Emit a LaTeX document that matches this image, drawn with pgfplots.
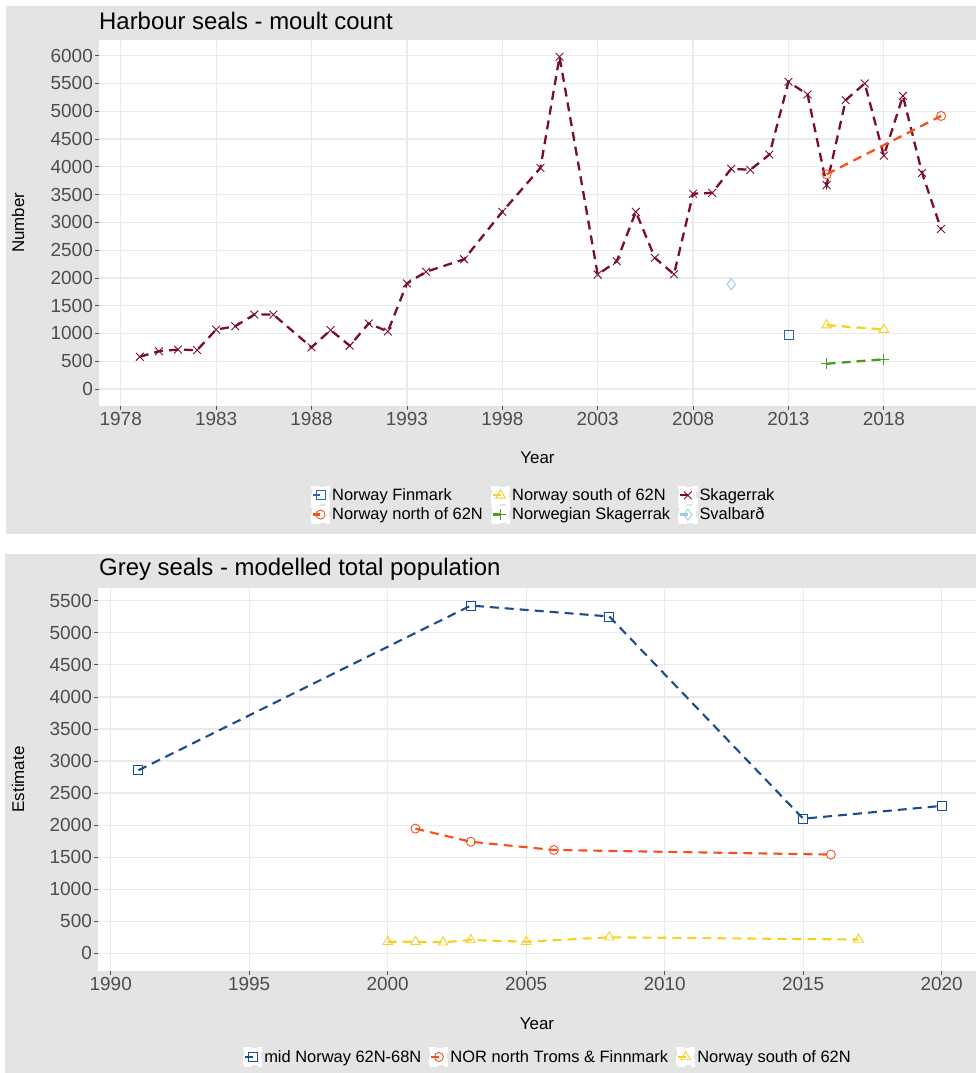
\documentclass[border=0pt]{standalone}
\usepackage{fontspec}
\setmainfont{Liberation Sans}
\usepackage{pgfplots}
\pgfplotsset{compat=1.18}

\definecolor{bggray}{HTML}{E4E4E4}
\definecolor{gridc}{HTML}{EAEAEA}
\definecolor{tickc}{HTML}{555555}
\definecolor{labc}{HTML}{4D4D4D}
\definecolor{skag}{HTML}{7B0D33}
\definecolor{north}{HTML}{F4511E}
\definecolor{finm}{HTML}{2E66A8}
\definecolor{south}{HTML}{F8D022}
\definecolor{norsk}{HTML}{4C9A2A}
\definecolor{sval}{HTML}{9CCBEB}
\definecolor{midn}{HTML}{1B4C8C}

\pgfplotsset{
  sealax/.style={
    scale only axis,
    axis background/.style={fill=white},
    axis line style={draw=none},
    xmajorgrids, ymajorgrids,
    major grid style={draw=gridc, line width=1.2bp},
    tick align=outside,
    major tick length=4bp,
    xtick pos=left, ytick pos=left,
    tick style={draw=tickc, line width=0.8bp},
    tick label style={font=\fontsize{19}{21}\selectfont, text=labc},
    yticklabel style={inner sep=2bp},
    xticklabel style={inner sep=2bp},
    /pgf/number format/assume math mode=true,
    /pgf/number format/1000 sep={},
    scaled ticks=false,
    label style={font=\fontsize{17}{19}\selectfont},
    legend cell align=left,
    legend style={draw=none, fill=none, font=\fontsize{16.5}{18}\selectfont,
      /tikz/every even column/.append style={column sep=6bp},
      row sep=0bp},
    legend image code/.code={
      \fill[white] (0bp,-8.5bp) rectangle (17bp,8.5bp);
      \draw[mark repeat=2,mark phase=2,##1,solid] plot coordinates {(1bp,0bp)(8.5bp,0bp)(8.5bp,0bp)};
    },
  },
  sdash/.style={line width=2.3bp, dash pattern=on 9bp off 6bp, mark options={solid, line width=0.9bp}},
}

\begin{document}
\begin{tikzpicture}
\useasboundingbox (0,0) rectangle (976bp,1073bp);
\fill[bggray] (6bp,539bp) rectangle (976bp,1067bp);
\fill[bggray] (5bp,0bp) rectangle (976bp,519bp);

\begin{axis}[sealax,
  at={(99bp,667.3bp)}, anchor=south west,
  width=877bp, height=365.7bp,
  xmin=1976.86, xmax=2022.83, ymin=-300, ymax=6282,
  xtick={1978,1983,...,2018}, ytick={0,500,...,6000},
  xlabel={Year}, ylabel={Number},
  xlabel style={at={(axis description cs:0.5,-0.143)}, anchor=center},
  ylabel style={at={(axis description cs:-0.0924,0.5)}, anchor=center},
  legend columns=3,
  legend style={at={(0.507,-0.2715)}, anchor=center},
]
\addplot[sdash, color=finm, mark=square, mark size=4.5bp] coordinates {(2013,980)};
\addlegendentry{Norway Finmark}
\addplot[sdash, color=south, mark=triangle, mark size=5.5bp] coordinates {(2015,1150) (2018,1070)};
\addlegendentry{Norway south of 62N}
\addplot[sdash, color=skag, mark=x, mark size=5.5bp] coordinates {
(1979,580) (1980,680) (1981,710) (1982,700) (1983,1070) (1984,1130)
(1985,1340) (1986,1340) (1988,750) (1989,1060) (1990,780) (1991,1180)
(1992,1035) (1993,1900) (1994,2110) (1996,2335) (1998,3190) (2000,3980)
(2001,5980) (2003,2060) (2004,2300) (2005,3190) (2006,2360) (2007,2065)
(2008,3515) (2009,3530) (2010,3965) (2011,3945) (2012,4220) (2013,5530)
(2014,5300) (2015,3670) (2016,5200) (2017,5500) (2018,4200) (2019,5275)
(2020,3890) (2021,2880)};
\addlegendentry{Skagerrak}
\addplot[sdash, color=north, mark=o, mark size=4.5bp] coordinates {(2015,3865) (2021,4915)};
\addlegendentry{Norway north of 62N}
\addplot[sdash, color=norsk, mark=+, mark size=5.5bp] coordinates {(2015,455) (2018,535)};
\addlegendentry{Norwegian Skagerrak}
\addplot[sdash, color=sval, mark=diamond, mark size=5.5bp] coordinates {(2010,1885)};
\addlegendentry{Svalbarð}
\end{axis}
\node[anchor=base west, inner sep=0pt, font=\fontsize{24}{28}\selectfont] at (99bp,1043.7bp) {Harbour seals - moult count};

\begin{axis}[sealax,
  at={(98bp,102bp)}, anchor=south west,
  width=878bp, height=383bp,
  xmin=1989.54, xmax=2021.24, ymin=-276, ymax=5699,
  xtick={1990,1995,...,2020}, ytick={0,500,...,5500},
  xlabel={Year}, ylabel={Estimate},
  xlabel style={at={(axis description cs:0.5,-0.138)}, anchor=center},
  ylabel style={at={(axis description cs:-0.0911,0.5)}, anchor=center},
  legend columns=3,
  legend style={at={(0.5125,-0.2245)}, anchor=center},
]
\addplot[sdash, line width=2.1bp, color=midn, mark=square, mark size=4.5bp] coordinates {
(1991,2855) (2003,5425) (2008,5255) (2015,2100) (2020,2300)};
\addlegendentry{mid Norway 62N-68N}
\addplot[sdash, line width=2.1bp, color=north, mark=o, mark size=4.5bp] coordinates {
(2001,1945) (2003,1740) (2006,1612) (2016,1540)};
\addlegendentry{NOR north Troms \& Finnmark}
\addplot[sdash, line width=2.1bp, color=south, mark=triangle, mark size=5.5bp] coordinates {
(2000,180) (2001,180) (2002,172) (2003,207) (2005,181) (2008,250) (2017,215)};
\addlegendentry{Norway south of 62N}
\end{axis}
\node[anchor=base west, inner sep=0pt, font=\fontsize{24}{28}\selectfont] at (99bp,497.7bp) {Grey seals - modelled total population};
\end{tikzpicture}
\end{document}
